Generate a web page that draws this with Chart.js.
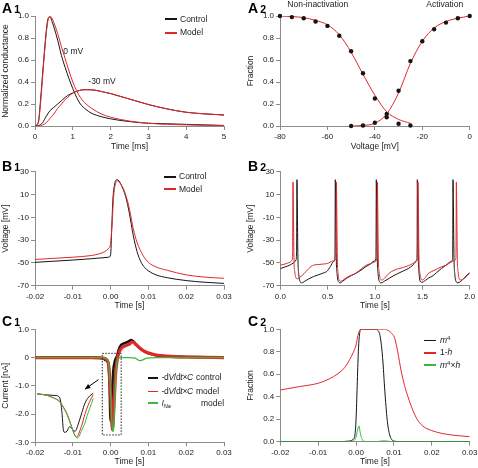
<!DOCTYPE html>
<html>
<head>
<meta charset="utf-8">
<script src="https://cdn.jsdelivr.net/npm/chart.js@4.4.1/dist/chart.umd.min.js"></script>
<style>
  body { margin: 0; background: #fff; }
  #fig { position: relative; width: 478px; height: 468px; overflow: hidden; font-family: "Liberation Sans", Arial, sans-serif; }
  #fig canvas { position: absolute; left: 0; top: 0; }
  .lbl { position: absolute; font-weight: bold; font-size: 14px; line-height: 14px; color: #000; }
  .lbl span { font-size: 10.5px; margin-left: 2px; }
  .leg { position: absolute; font-size: 8.5px; line-height: 10px; color: #222; white-space: nowrap; }
  .leg.narrow { letter-spacing: -0.3px; }
  .leg sub { font-size: 6px; vertical-align: -2px; line-height: 0; }
  .leg sup { font-size: 6px; vertical-align: 3px; line-height: 0; }
  .ln { position: absolute; }
</style>
</head>
<body>
<div id="fig"></div>
<script>
// ---- A1: normalized conductance (time in ms) ----
const a1Time0 = [0, 0.05, 0.1, 0.15, 0.2, 0.25, 0.3, 0.35, 0.4, 0.45, 0.5, 0.6, 0.7, 0.8, 0.9, 1.0, 1.1, 1.2, 1.35, 1.5, 1.75, 2.0, 2.5, 3.0, 3.5, 4.0, 4.5, 5.0];
const a1Control0 = [0, 0.01, 0.06, 0.25, 0.47, 0.68, 0.87, 0.98, 0.99, 0.95, 0.9, 0.78, 0.64, 0.53, 0.43, 0.34, 0.26, 0.2, 0.15, 0.115, 0.085, 0.065, 0.04, 0.025, 0.02, 0.015, 0.01, 0.005];
const a1Model0 = [0, 0.01, 0.05, 0.22, 0.44, 0.66, 0.85, 0.97, 1.0, 0.98, 0.94, 0.84, 0.72, 0.61, 0.5, 0.4, 0.32, 0.26, 0.2, 0.16, 0.11, 0.08, 0.045, 0.025, 0.015, 0.01, 0.006, 0.004];
const a1Time30 = [0, 0.1, 0.2, 0.3, 0.4, 0.5, 0.6, 0.7, 0.8, 0.9, 1.0, 1.1, 1.2, 1.3, 1.4, 1.6, 1.8, 2.0, 2.25, 2.5, 2.75, 3.0, 3.5, 4.0, 4.5, 5.0];
const a1Control30 = [0, 0.005, 0.03, 0.09, 0.14, 0.17, 0.2, 0.23, 0.26, 0.285, 0.3, 0.315, 0.325, 0.33, 0.33, 0.325, 0.31, 0.295, 0.27, 0.245, 0.22, 0.195, 0.155, 0.125, 0.11, 0.1];
const a1Model30 = [0, 0, 0.01, 0.03, 0.07, 0.11, 0.16, 0.2, 0.24, 0.27, 0.3, 0.315, 0.325, 0.33, 0.33, 0.325, 0.31, 0.295, 0.27, 0.245, 0.22, 0.195, 0.155, 0.125, 0.11, 0.1];

// ---- A2: steady-state curves (voltage in mV) ----
const a2Volt = [-80, -75, -70, -65, -60, -55, -50, -45, -40, -35, -30, -25];
const a2InactData = [1.0, 0.99, 0.98, 0.95, 0.91, 0.82, 0.68, 0.48, 0.25, 0.08, 0.02, 0.005];
const a2InactFit = [1.0, 0.995, 0.985, 0.96, 0.92, 0.83, 0.67, 0.47, 0.28, 0.13, 0.06, 0.025];
const a2ActVolt = [-50, -45, -40, -35, -30, -25, -20, -15, -10, -5, 0];
const a2ActData = [0.0, 0.005, 0.03, 0.11, 0.32, 0.59, 0.77, 0.88, 0.94, 0.98, 1.0];
const a2ActFit = [0.0, 0.005, 0.025, 0.11, 0.3, 0.57, 0.77, 0.89, 0.95, 0.98, 1.0];

// ---- B1: single action potential (time in s) ----
const b1CtrlTime = [-0.02, -0.015, -0.01, -0.005, -0.002, -0.0005, 0, 0.0003, 0.0006, 0.001, 0.0013, 0.0017, 0.0022, 0.003, 0.004, 0.005, 0.006, 0.007, 0.008, 0.009, 0.01, 0.012, 0.015, 0.02, 0.025, 0.03];
const b1Control = [-49.5, -48.5, -47.5, -46.3, -45.5, -45, -43, -20, 5, 18, 22, 23, 22, 17, 8, -7, -26, -40, -49, -54, -57, -60.5, -63, -65.5, -67, -68];
const b1ModelTime = [-0.02, -0.015, -0.01, -0.005, -0.003, -0.0015, -0.0005, 0, 0.0004, 0.0008, 0.0012, 0.0018, 0.0025, 0.0035, 0.0045, 0.005, 0.006, 0.007, 0.0085, 0.01, 0.012, 0.015, 0.02, 0.025, 0.03];
const b1Model = [-47, -46, -45, -43.5, -42, -40, -37, -33, -15, 8, 18, 22, 20, 14, 4, -3, -20, -32, -43, -49.5, -53.5, -56.5, -60.5, -62.5, -63.5];

// ---- B2: spike train ----
const b2CtrlTime = [0, 0.05, 0.1, 0.14, 0.165, 0.172, 0.176, 0.18, 0.186, 0.195, 0.21, 0.225, 0.26, 0.3, 0.35, 0.4, 0.45, 0.49, 0.53, 0.56, 0.575, 0.578, 0.581, 0.585, 0.591, 0.6, 0.615, 0.635, 0.66, 0.7, 0.75, 0.8, 0.85, 0.9, 0.95, 0.99, 1.008, 1.011, 1.014, 1.018, 1.024, 1.033, 1.048, 1.065, 1.1, 1.15, 1.2, 1.25, 1.3, 1.35, 1.4, 1.43, 1.442, 1.445, 1.447, 1.451, 1.457, 1.466, 1.48, 1.497, 1.53, 1.57, 1.6, 1.65, 1.7, 1.75, 1.8, 1.818, 1.821, 1.824, 1.828, 1.834, 1.843, 1.857, 1.875, 1.9, 1.95, 2.0];
const b2Control = [-55, -53.5, -52, -50, -47.5, -40, 23, 0, -45, -60, -66.5, -67.5, -66, -64, -62, -60.5, -59, -57.5, -53, -49, -47, -35, 23, 0, -45, -60, -66.5, -67.5, -66, -63.5, -61, -59, -56.5, -53.5, -51, -48.5, -46.5, -35, 23, 0, -45, -60, -66.5, -67.5, -66, -63.5, -61, -59, -57, -55, -52, -49, -47, -35, 23, 0, -45, -60, -66.5, -67, -65.5, -63, -62, -58.5, -55, -52, -49, -47, -35, 23, 0, -45, -60, -66.5, -67.5, -66.5, -62.5, -58.5];
const b2ModelTime = [0, 0.05, 0.1, 0.125, 0.13, 0.134, 0.138, 0.144, 0.153, 0.165, 0.18, 0.2, 0.25, 0.3, 0.35, 0.4, 0.45, 0.5, 0.55, 0.585, 0.589, 0.592, 0.596, 0.602, 0.611, 0.625, 0.64, 0.68, 0.73, 0.78, 0.83, 0.88, 0.92, 0.96, 1.0, 1.018, 1.022, 1.025, 1.029, 1.035, 1.044, 1.058, 1.075, 1.1, 1.15, 1.2, 1.25, 1.3, 1.35, 1.4, 1.44, 1.449, 1.452, 1.454, 1.458, 1.464, 1.473, 1.487, 1.5, 1.53, 1.56, 1.6, 1.65, 1.7, 1.75, 1.8, 1.84, 1.852, 1.856, 1.859, 1.863, 1.869, 1.878, 1.892, 1.91, 1.95, 2.0];
const b2Model = [-52, -51, -49.5, -47.5, -40, 21, 0, -45, -58, -63, -64, -63, -59.5, -55, -52, -51.5, -51, -50.5, -48.5, -46.5, -35, 21, 0, -45, -60, -65.5, -66, -64, -61.5, -60, -57, -53.5, -51.5, -50.5, -49, -46.5, -35, 21, 0, -45, -58, -64, -65, -63.5, -59, -56.5, -55, -54, -52.5, -50.5, -48, -46.5, -35, 21, 0, -45, -58, -64, -65, -63, -59.5, -57.5, -55.5, -53.5, -52, -49.5, -48, -46.5, -35, 21, 0, -45, -58, -64.5, -65, -63, -59];

// ---- C1: membrane current ----
const c1CtrlTime = [-0.02, -0.015, -0.01, -0.005, -0.002, -0.0012, -0.0006, -0.0003, 0, 0.0003, 0.0007, 0.0012, 0.0017, 0.0022, 0.0028, 0.0035, 0.0045, 0.0055, 0.0065, 0.0075, 0.0085, 0.01, 0.012, 0.015, 0.02, 0.025, 0.03];
const c1Control = [0, 0, 0, 0, -0.03, -0.1, -0.2, -0.8, -2.25, -1.6, -0.5, -0.1, 0.05, 0.3, 0.45, 0.5, 0.55, 0.62, 0.5, 0.35, 0.25, 0.15, 0.08, 0.04, 0.02, 0.01, 0];
const c1ModelTime = [-0.02, -0.01, -0.005, -0.002, -0.001, -0.0005, 0, 0.0005, 0.0009, 0.0013, 0.0018, 0.0023, 0.003, 0.004, 0.005, 0.0058, 0.0068, 0.0078, 0.009, 0.0105, 0.012, 0.015, 0.02, 0.025, 0.03];
const c1Model = [0, 0, 0, -0.02, -0.08, -0.3, -1.3, -2.56, -1.7, -0.6, -0.05, 0.2, 0.35, 0.42, 0.48, 0.55, 0.45, 0.33, 0.22, 0.14, 0.09, 0.05, 0.02, 0.01, 0];
const c1NaTime = [-0.02, -0.005, -0.002, -0.001, -0.0005, 0, 0.0004, 0.0007, 0.001, 0.0014, 0.0018, 0.0025, 0.005, 0.0065, 0.0072, 0.0078, 0.0085, 0.0095, 0.012, 0.03];
const c1INa = [0, 0, -0.01, -0.05, -0.25, -1.2, -2.4, -2.62, -1.9, -0.6, -0.1, 0, 0, -0.02, -0.08, -0.11, -0.08, -0.02, 0, 0];
// magnified copy of the spike drawn in the lower left
const c1InsetCtrlTime = [-0.0194, -0.017, -0.015, -0.0138, -0.0133, -0.0129, -0.0125, -0.0121, -0.0115, -0.0109, -0.0103, -0.0097, -0.0093, -0.0088, -0.0083, -0.0076, -0.0068, -0.0058, -0.0046];
const c1InsetCtrl = [-1.29, -1.32, -1.34, -1.37, -1.5, -1.9, -2.55, -2.65, -2.6, -2.45, -2.5, -2.6, -2.6, -2.45, -2.25, -1.95, -1.62, -1.4, -1.26];
const c1InsetModelTime = [-0.0194, -0.017, -0.016, -0.0145, -0.0134, -0.0125, -0.0116, -0.0108, -0.0103, -0.0097, -0.0092, -0.009, -0.0086, -0.0081, -0.0076, -0.007, -0.0064, -0.0055, -0.0046];
const c1InsetModel = [-1.29, -1.33, -1.38, -1.46, -1.56, -1.75, -1.97, -2.25, -2.45, -2.68, -2.8, -2.82, -2.75, -2.58, -2.39, -2.1, -1.85, -1.55, -1.32];
const c1InsetNaTime = [-0.0194, -0.017, -0.016, -0.0145, -0.0134, -0.0125, -0.0116, -0.0108, -0.0102, -0.0096, -0.0091, -0.0087, -0.0083, -0.0078, -0.0073, -0.0068, -0.0062, -0.0055, -0.0046];
const c1InsetNa = [-1.29, -1.33, -1.38, -1.47, -1.58, -1.77, -2.0, -2.28, -2.5, -2.72, -2.83, -2.85, -2.78, -2.62, -2.48, -2.32, -2.05, -1.8, -1.45];
const c1BoxTime = [-0.0022, 0.0028, 0.0028, -0.0022, -0.0022];
const c1BoxVal = [0.15, 0.15, -2.74, -2.74, 0.15];

// ---- C2: gating variables ----
const c2HTime = [-0.02, -0.015, -0.01, -0.007, -0.005, -0.003, -0.0017, -0.0008, 0, 0.0004, 0.0008, 0.0013, 0.002, 0.004, 0.006, 0.0075, 0.0089, 0.0095, 0.0102, 0.011, 0.0119, 0.0128, 0.0137, 0.015, 0.0163, 0.018, 0.0199, 0.0225, 0.0251, 0.03];
const c2OneMinusH = [0.46, 0.49, 0.52, 0.56, 0.6, 0.66, 0.73, 0.79, 0.86, 0.93, 0.98, 1.0, 1.0, 1.0, 1.0, 1.0, 0.98, 0.96, 0.92, 0.8, 0.63, 0.5, 0.4, 0.28, 0.19, 0.13, 0.1, 0.075, 0.06, 0.045];
const c2MTime = [-0.02, -0.005, -0.002, -0.0008, -0.0003, 0, 0.0003, 0.0006, 0.0009, 0.0012, 0.002, 0.005, 0.0058, 0.0064, 0.007, 0.0076, 0.0082, 0.0088, 0.0094, 0.01, 0.012, 0.03];
const c2M4 = [0, 0, 0.005, 0.02, 0.06, 0.2, 0.5, 0.8, 0.95, 1.0, 1.0, 1.0, 0.99, 0.93, 0.75, 0.45, 0.2, 0.07, 0.02, 0.005, 0, 0];
const c2MHTime = [-0.02, -0.002, -0.001, -0.0004, 0, 0.0003, 0.0006, 0.0008, 0.001, 0.0013, 0.0017, 0.0022, 0.005, 0.0065, 0.0075, 0.0085, 0.01, 0.03];
const c2M4H = [0, 0.001, 0.004, 0.015, 0.04, 0.09, 0.13, 0.14, 0.1, 0.05, 0.015, 0.003, 0, 0.005, 0.008, 0.004, 0, 0];

// ---- axis ticks ----
const fracTicks = [0, 0.2, 0.4, 0.6, 0.8, 1.0];
const fracLabels = ["0.0", "0.2", "0.4", "0.6", "0.8", "1.0"];
const msTicks = [0, 1, 2, 3, 4, 5];
const msLabels = ["0", "1", "2", "3", "4", "5"];
const mvTicks = [-80, -60, -40, -20, 0];
const mvLabels = ["-80", "-60", "-40", "-20", "0"];
const secTicks = [-0.02, -0.01, 0, 0.01, 0.02, 0.03];
const secLabels = ["-0.02", "-0.01", "0.00", "0.01", "0.02", "0.03"];
const voltTicks = [-70, -50, -30, -10, 10, 30];
const voltLabels = ["-70", "-50", "-30", "-10", "10", "30"];
const trainTicks = [0, 0.5, 1.0, 1.5, 2.0];
const trainLabels = ["0.0", "0.5", "1.0", "1.5", "2.0"];
const currTicks = [-3, -2, -1, 0, 1];
const currLabels = ["-3.0", "-2.0", "-1.0", "0", "1.0"];

const gray = "#8c8c8c";
const ink = "#222";
const black = "#151515";
const red = "#e0282b";
const green = "#3bb83b";
const FONT = "'Liberation Sans', Arial, sans-serif";
Chart.defaults.font.family = FONT;

const fig = document.getElementById("fig");
const pts = (xs, ys) => xs.map((x, i) => ({ x: x, y: ys[i] }));

const notesPlugin = {
  id: "notes",
  afterDraw(chart, args, opts) {
    const ctx = chart.ctx;
    const sx = chart.scales.x, sy = chart.scales.y;
    ctx.save();
    ctx.fillStyle = ink;
    ctx.font = "8.5px " + FONT;
    ctx.textBaseline = "middle";
    (opts.items || []).forEach(n => ctx.fillText(n.text, sx.getPixelForValue(n.x), sy.getPixelForValue(n.y)));
    (opts.arrows || []).forEach(a => {
      const x1 = sx.getPixelForValue(a[0]), y1 = sy.getPixelForValue(a[1]);
      const x2 = sx.getPixelForValue(a[2]), y2 = sy.getPixelForValue(a[3]);
      const ang = Math.atan2(y2 - y1, x2 - x1);
      ctx.strokeStyle = "#000";
      ctx.lineWidth = 1;
      ctx.beginPath(); ctx.moveTo(x1, y1); ctx.lineTo(x2, y2); ctx.stroke();
      ctx.fillStyle = "#000";
      ctx.beginPath();
      ctx.moveTo(x2, y2);
      ctx.lineTo(x2 - 6 * Math.cos(ang - 0.4), y2 - 6 * Math.sin(ang - 0.4));
      ctx.lineTo(x2 - 6 * Math.cos(ang + 0.4), y2 - 6 * Math.sin(ang + 0.4));
      ctx.closePath(); ctx.fill();
    });
    ctx.restore();
  }
};

function axis(def, size, horiz) {
  return {
    type: "linear", min: def.min, max: def.max,
    afterBuildTicks: s => { s.ticks = def.ticks.map(v => ({ value: v })); },
    afterFit: s => {
      if (horiz) s.height = size; else s.width = size;
      s.paddingLeft = 0; s.paddingRight = 0; s.paddingTop = 0; s.paddingBottom = 0;
    },
    grid: { drawOnChartArea: false, drawTicks: true, tickLength: 4, color: gray, lineWidth: 1 },
    border: { display: true, color: gray, width: 1 },
    ticks: { autoSkip: false, maxRotation: 0, padding: 2, color: ink, font: { size: 8 }, callback: (v, i) => def.labels[i] },
    title: { display: true, text: def.title, color: ink, font: { size: 8.5, lineHeight: 1 }, padding: 0 }
  };
}

function makePanel(box, xDef, yDef, datasets, notes) {
  const canvas = document.createElement("canvas");
  canvas.width = 478; canvas.height = 468;
  fig.appendChild(canvas);
  const yw = box.L - (box.yTitleX - 4.25);
  const xh = box.xTitleY + 4.25 - box.B;
  return new Chart(canvas, {
    type: "line",
    data: { datasets: datasets },
    options: {
      responsive: false, animation: false, devicePixelRatio: 1,
      layout: { padding: { left: box.L - yw, right: 478 - box.R, top: box.T, bottom: 468 - box.B - xh } },
      plugins: { legend: { display: false }, tooltip: { enabled: false }, notes: notes || {} },
      elements: { point: { radius: 0 }, line: { borderWidth: 1, cubicInterpolationMode: "monotone" } },
      scales: { x: axis(xDef, xh, true), y: axis(yDef, yw, false) }
    },
    plugins: [notesPlugin]
  });
}

function line(data, color, width) {
  return { data: data, borderColor: color, borderWidth: width || 1, pointRadius: 0, fill: false };
}

// A1
makePanel({ L: 35, R: 224, T: 16, B: 126, yTitleX: 5.5, xTitleY: 146.5 },
  { min: 0, max: 5, ticks: msTicks, labels: msLabels, title: "Time [ms]" },
  { min: 0, max: 1, ticks: fracTicks, labels: fracLabels, title: "Normalized conductance" },
  [
    line(pts(a1Time0, a1Model0), red),
    line(pts(a1Time30, a1Model30), red),
    line(pts(a1Time0, a1Control0), black),
    line(pts(a1Time30, a1Control30), black)
  ],
  { items: [{ x: 0.75, y: 0.675, text: "0 mV" }, { x: 1.41, y: 0.4, text: "-30 mV" }] });

// A2
makePanel({ L: 280, R: 469.7, T: 16, B: 126, yTitleX: 251, xTitleY: 146.5 },
  { min: -80, max: 0, ticks: mvTicks, labels: mvLabels, title: "Voltage [mV]" },
  { min: 0, max: 1, ticks: fracTicks, labels: fracLabels, title: "Fraction" },
  [
    Object.assign(line(pts(a2Volt, a2InactData), black), { showLine: false, pointRadius: 2.2, pointBackgroundColor: black, pointBorderWidth: 0, clip: 6 }),
    Object.assign(line(pts(a2ActVolt, a2ActData), black), { showLine: false, pointRadius: 2.2, pointBackgroundColor: black, pointBorderWidth: 0, clip: 6 }),
    line(pts(a2Volt, a2InactFit), red),
    line(pts(a2ActVolt, a2ActFit), red)
  ],
  { items: [{ x: -76.9, y: 1.1, text: "Non-inactivation" }, { x: -18.3, y: 1.1, text: "Activation" }] });

// B1
makePanel({ L: 35, R: 224, T: 171.7, B: 285.7, yTitleX: 5.5, xTitleY: 305.5 },
  { min: -0.02, max: 0.03, ticks: secTicks, labels: secLabels, title: "Time [s]" },
  { min: -70, max: 30, ticks: voltTicks, labels: voltLabels, title: "Voltage [mV]" },
  [
    line(pts(b1ModelTime, b1Model), red),
    line(pts(b1CtrlTime, b1Control), black)
  ]);

// B2
makePanel({ L: 280.3, R: 469.7, T: 171.7, B: 285.7, yTitleX: 251, xTitleY: 305.5 },
  { min: 0, max: 2, ticks: trainTicks, labels: trainLabels, title: "Time [s]" },
  { min: -70, max: 30, ticks: voltTicks, labels: voltLabels, title: "Voltage [mV]" },
  [
    line(pts(b2ModelTime, b2Model), red),
    line(pts(b2CtrlTime, b2Control), black)
  ]);

// C1
makePanel({ L: 35, R: 224, T: 329.3, B: 442.3, yTitleX: 5.5, xTitleY: 461.5 },
  { min: -0.02, max: 0.03, ticks: secTicks, labels: secLabels, title: "Time [s]" },
  { min: -3, max: 1, ticks: currTicks, labels: currLabels, title: "Current [nA]" },
  [
    Object.assign(line(pts(c1BoxTime, c1BoxVal), "#222"), { borderDash: [1.5, 1.5], cubicInterpolationMode: "default", tension: 0 }),
    line(pts(c1InsetNaTime, c1InsetNa), green),
    line(pts(c1InsetModelTime, c1InsetModel), red),
    line(pts(c1InsetCtrlTime, c1InsetCtrl), black),
    line(pts(c1NaTime, c1INa), green, 1.3),
    line(pts(c1ModelTime, c1Model), red, 3.2),
    line(pts(c1CtrlTime, c1Control), black, 2.6)
  ],
  { arrows: [[-0.0032, -0.78, -0.0068, -1.12]] });

// C2
makePanel({ L: 280.3, R: 469.7, T: 329.3, B: 441.7, yTitleX: 251, xTitleY: 461.5 },
  { min: -0.02, max: 0.03, ticks: secTicks, labels: secLabels, title: "Time [s]" },
  { min: 0, max: 1, ticks: fracTicks, labels: fracLabels, title: "Fraction" },
  [
    line(pts(c2MHTime, c2M4H), green),
    line(pts(c2HTime, c2OneMinusH), red),
    line(pts(c2MTime, c2M4), black)
  ]);

// panel letters
[["A", "1", 2, 0.8], ["A", "2", 248, 0.6], ["B", "1", 2, 158.6], ["B", "2", 248, 158.6], ["C", "1", 2, 313.5], ["C", "2", 248, 313.5]]
  .forEach(p => {
    const d = document.createElement("div");
    d.className = "lbl";
    d.style.left = p[2] + "px"; d.style.top = p[3] + "px";
    d.innerHTML = p[0] + "<span>" + p[1] + "</span>";
    fig.appendChild(d);
  });

// legends: [lineX, lineW, textX, centerY, color, html, secondX, secondText, narrow]
const legendRows = [
  [165, 12, 180, 19.3, black, "Control"],
  [165, 12, 180, 32.7, red, "Model"],
  [164, 12, 179, 176.7, black, "Control"],
  [164, 12, 179, 189.3, red, "Model"],
  [148, 10, 161.5, 377.7, black, "-d<i>V</i>/d<i>t</i>&times;<i>C</i>", 196, "control", true],
  [148, 10, 161.5, 391.5, red, "-d<i>V</i>/d<i>t</i>&times;<i>C</i>", 196, "model", true],
  [148, 10, 161.5, 403.3, green, "<i>I</i><sub><i>Na</i></sub>", 201, "model", true],
  [424, 12, 440, 340.5, black, "<i>m</i><sup>4</sup>"],
  [424, 12, 440, 352.7, red, "1-<i>h</i>"],
  [424, 12, 440, 365, green, "<i>m</i><sup>4</sup>&times;<i>h</i>"]
];
legendRows.forEach(r => {
  const ln = document.createElement("div");
  ln.className = "ln";
  ln.style.cssText = `left:${r[0]}px;top:${r[3] - 0.9}px;width:${r[1]}px;height:1.8px;background:${r[4]}`;
  fig.appendChild(ln);
  const t = document.createElement("div");
  t.className = r[8] ? "leg narrow" : "leg";
  t.style.left = r[2] + "px"; t.style.top = (r[3] - 5.5) + "px";
  t.innerHTML = r[5];
  fig.appendChild(t);
  if (r[6]) {
    const t2 = document.createElement("div");
    t2.className = "leg";
    t2.style.left = r[6] + "px"; t2.style.top = (r[3] - 5.5) + "px";
    t2.textContent = r[7];
    fig.appendChild(t2);
  }
});
</script>
</body>
</html>
